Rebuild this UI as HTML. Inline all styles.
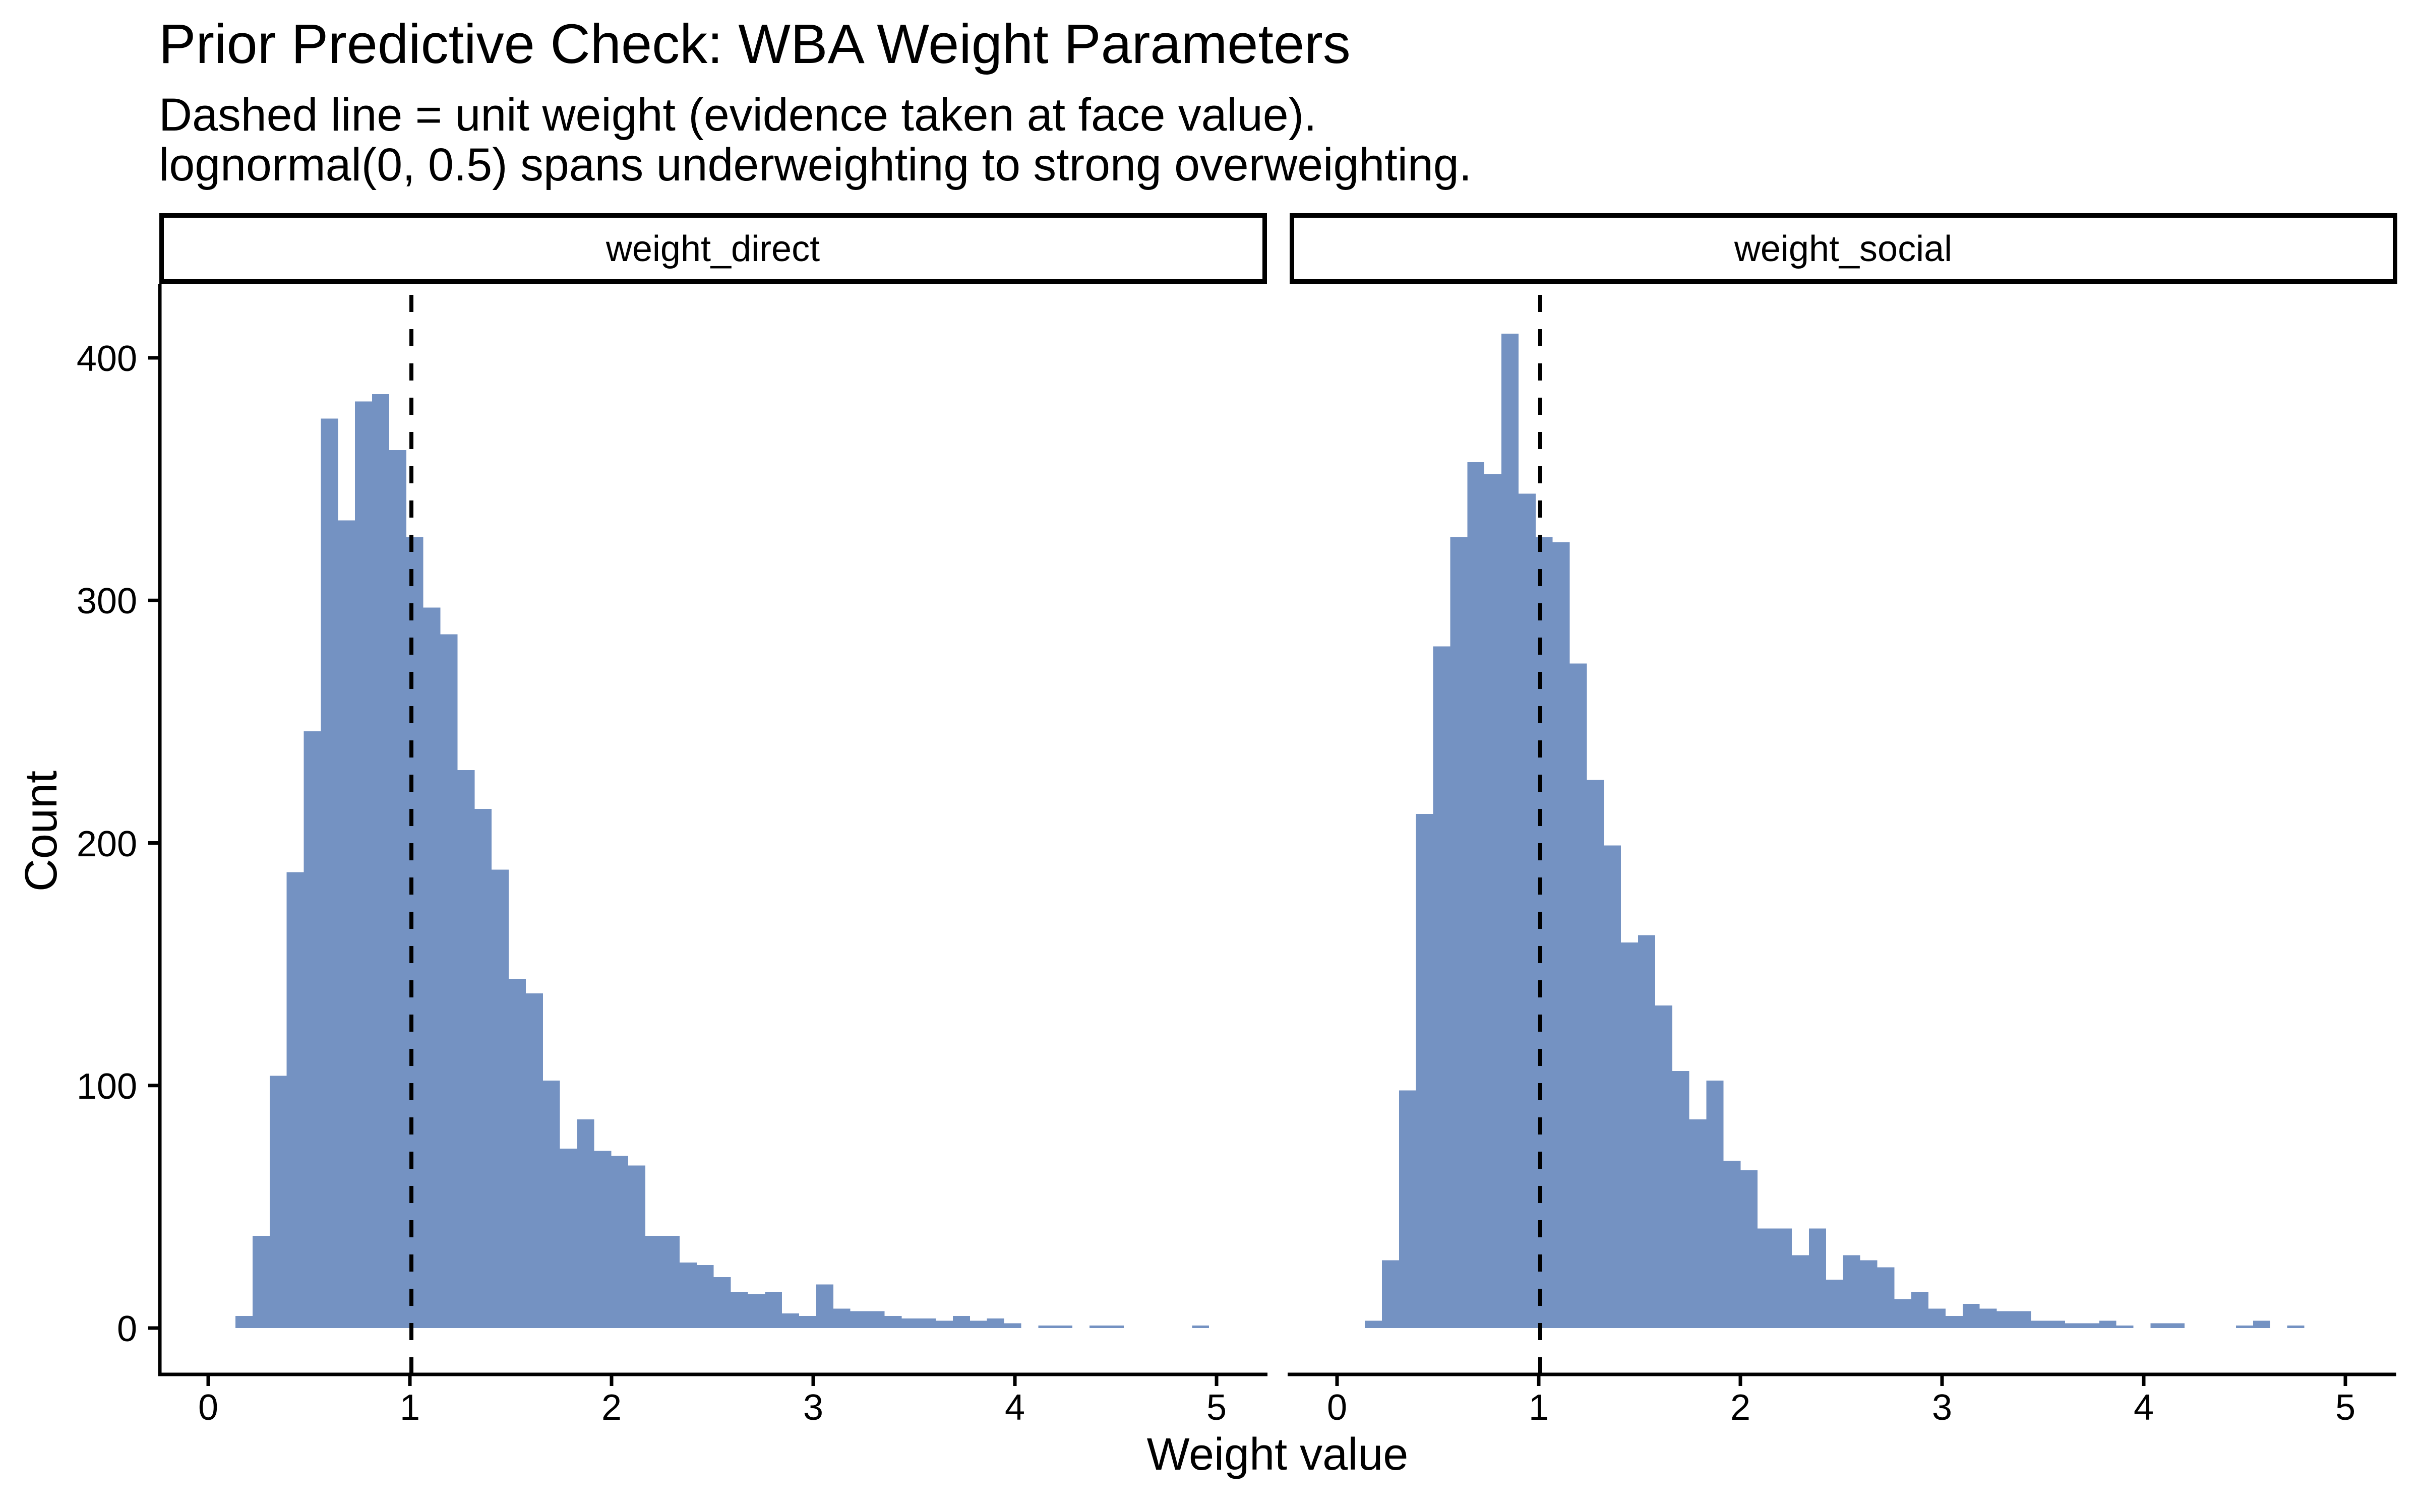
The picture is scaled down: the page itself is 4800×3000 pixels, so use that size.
<!DOCTYPE html>
<html><head><meta charset="utf-8"><style>html,body{margin:0;padding:0;background:#fff}svg{display:block}</style></head>
<body>
<svg width="4800" height="3000" viewBox="0 0 4800 3000" xmlns="http://www.w3.org/2000/svg" font-family="Liberation Sans, Arial, sans-serif">
<rect width="4800" height="3000" fill="#fff"/>
<text x="315" y="125" font-size="110" fill="#000">Prior Predictive Check: WBA Weight Parameters</text>
<text x="315" y="259" font-size="91.5" fill="#000">Dashed line = unit weight (evidence taken at face value).</text>
<text x="315" y="358" font-size="91.5" fill="#000">lognormal(0, 0.5) spans underweighting to strong overweighting.</text>

<!-- strips -->
<rect x="320.5" y="427.5" width="2188" height="131" fill="#fff" stroke="#000" stroke-width="9"/>
<rect x="2562.5" y="427.5" width="2188" height="131" fill="#fff" stroke="#000" stroke-width="9"/>
<text x="1414" y="518" font-size="72" text-anchor="middle">weight_direct</text>
<text x="3656" y="518" font-size="72" text-anchor="middle">weight_social</text>

<!-- panel 1 bars -->
<g fill="#7492c2" shape-rendering="crispEdges" transform="translate(467,2635) scale(33.88,-4.8125)">
<rect x="0" y="0" width="1" height="5"/><rect x="1" y="0" width="1" height="38"/><rect x="2" y="0" width="1" height="104"/><rect x="3" y="0" width="1" height="188"/><rect x="4" y="0" width="1" height="246"/><rect x="5" y="0" width="1" height="375"/><rect x="6" y="0" width="1" height="333"/><rect x="7" y="0" width="1" height="382"/><rect x="8" y="0" width="1" height="385"/><rect x="9" y="0" width="1" height="362"/><rect x="10" y="0" width="1" height="326"/><rect x="11" y="0" width="1" height="297"/><rect x="12" y="0" width="1" height="286"/><rect x="13" y="0" width="1" height="230"/><rect x="14" y="0" width="1" height="214"/><rect x="15" y="0" width="1" height="189"/><rect x="16" y="0" width="1" height="144"/><rect x="17" y="0" width="1" height="138"/><rect x="18" y="0" width="1" height="102"/><rect x="19" y="0" width="1" height="74"/><rect x="20" y="0" width="1" height="86"/><rect x="21" y="0" width="1" height="73"/><rect x="22" y="0" width="1" height="71"/><rect x="23" y="0" width="1" height="67"/><rect x="24" y="0" width="1" height="38"/><rect x="25" y="0" width="1" height="38"/><rect x="26" y="0" width="1" height="27"/><rect x="27" y="0" width="1" height="26"/><rect x="28" y="0" width="1" height="21"/><rect x="29" y="0" width="1" height="15"/><rect x="30" y="0" width="1" height="14"/><rect x="31" y="0" width="1" height="15"/><rect x="32" y="0" width="1" height="6"/><rect x="33" y="0" width="1" height="5"/><rect x="34" y="0" width="1" height="18"/><rect x="35" y="0" width="1" height="8"/><rect x="36" y="0" width="1" height="7"/><rect x="37" y="0" width="1" height="7"/><rect x="38" y="0" width="1" height="5"/><rect x="39" y="0" width="1" height="4"/><rect x="40" y="0" width="1" height="4"/><rect x="41" y="0" width="1" height="3"/><rect x="42" y="0" width="1" height="5"/><rect x="43" y="0" width="1" height="3"/><rect x="44" y="0" width="1" height="4"/><rect x="45" y="0" width="1" height="2"/><rect x="47" y="0" width="1" height="1"/><rect x="48" y="0" width="1" height="1"/><rect x="50" y="0" width="1" height="1"/><rect x="51" y="0" width="1" height="1"/><rect x="56" y="0" width="1" height="1"/>
</g>
<!-- panel 2 bars -->
<g fill="#7492c2" shape-rendering="crispEdges" transform="translate(2707,2635) scale(33.88,-4.8125)">
<rect x="0" y="0" width="1" height="3"/><rect x="1" y="0" width="1" height="28"/><rect x="2" y="0" width="1" height="98"/><rect x="3" y="0" width="1" height="212"/><rect x="4" y="0" width="1" height="281"/><rect x="5" y="0" width="1" height="326"/><rect x="6" y="0" width="1" height="357"/><rect x="7" y="0" width="1" height="352"/><rect x="8" y="0" width="1" height="410"/><rect x="9" y="0" width="1" height="344"/><rect x="10" y="0" width="1" height="326"/><rect x="11" y="0" width="1" height="324"/><rect x="12" y="0" width="1" height="274"/><rect x="13" y="0" width="1" height="226"/><rect x="14" y="0" width="1" height="199"/><rect x="15" y="0" width="1" height="159"/><rect x="16" y="0" width="1" height="162"/><rect x="17" y="0" width="1" height="133"/><rect x="18" y="0" width="1" height="106"/><rect x="19" y="0" width="1" height="86"/><rect x="20" y="0" width="1" height="102"/><rect x="21" y="0" width="1" height="69"/><rect x="22" y="0" width="1" height="65"/><rect x="23" y="0" width="1" height="41"/><rect x="24" y="0" width="1" height="41"/><rect x="25" y="0" width="1" height="30"/><rect x="26" y="0" width="1" height="41"/><rect x="27" y="0" width="1" height="20"/><rect x="28" y="0" width="1" height="30"/><rect x="29" y="0" width="1" height="28"/><rect x="30" y="0" width="1" height="25"/><rect x="31" y="0" width="1" height="12"/><rect x="32" y="0" width="1" height="15"/><rect x="33" y="0" width="1" height="8"/><rect x="34" y="0" width="1" height="5"/><rect x="35" y="0" width="1" height="10"/><rect x="36" y="0" width="1" height="8"/><rect x="37" y="0" width="1" height="7"/><rect x="38" y="0" width="1" height="7"/><rect x="39" y="0" width="1" height="3"/><rect x="40" y="0" width="1" height="3"/><rect x="41" y="0" width="1" height="2"/><rect x="42" y="0" width="1" height="2"/><rect x="43" y="0" width="1" height="3"/><rect x="44" y="0" width="1" height="1"/><rect x="46" y="0" width="1" height="2"/><rect x="47" y="0" width="1" height="2"/><rect x="51" y="0" width="1" height="1"/><rect x="52" y="0" width="1" height="3"/><rect x="54" y="0" width="1" height="1"/>
</g>

<!-- dashed lines -->
<line x1="816" y1="2727" x2="816" y2="567" stroke="#000" stroke-width="8" stroke-dasharray="34 34"/>
<line x1="3055" y1="2727" x2="3055" y2="567" stroke="#000" stroke-width="8" stroke-dasharray="34 34"/>

<!-- axes -->
<g stroke="#000" stroke-width="7">
<line x1="317" y1="563" x2="317" y2="2730"/>
<line x1="314" y1="2727" x2="2514" y2="2727"/>
<line x1="2554" y1="2727" x2="4753" y2="2727"/>
<line x1="294" y1="2635" x2="317" y2="2635"/>
<line x1="294" y1="2153.75" x2="317" y2="2153.75"/>
<line x1="294" y1="1672.5" x2="317" y2="1672.5"/>
<line x1="294" y1="1191.25" x2="317" y2="1191.25"/>
<line x1="294" y1="710" x2="317" y2="710"/>
<line x1="413" y1="2727" x2="413" y2="2750"/><line x1="813" y1="2727" x2="813" y2="2750"/><line x1="1213" y1="2727" x2="1213" y2="2750"/><line x1="1613" y1="2727" x2="1613" y2="2750"/><line x1="2013" y1="2727" x2="2013" y2="2750"/><line x1="2413" y1="2727" x2="2413" y2="2750"/>
<line x1="2652" y1="2727" x2="2652" y2="2750"/><line x1="3052" y1="2727" x2="3052" y2="2750"/><line x1="3452" y1="2727" x2="3452" y2="2750"/><line x1="3852" y1="2727" x2="3852" y2="2750"/><line x1="4252" y1="2727" x2="4252" y2="2750"/><line x1="4652" y1="2727" x2="4652" y2="2750"/>
</g>

<g font-size="72" fill="#000" text-anchor="end">
<text x="272" y="2661">0</text>
<text x="272" y="2180">100</text>
<text x="272" y="1699">200</text>
<text x="272" y="1217">300</text>
<text x="272" y="736">400</text>
</g>
<g font-size="72" fill="#000" text-anchor="middle">
<text x="413" y="2817">0</text><text x="813" y="2817">1</text><text x="1213" y="2817">2</text><text x="1613" y="2817">3</text><text x="2013" y="2817">4</text><text x="2413" y="2817">5</text>
<text x="2652" y="2817">0</text><text x="3052" y="2817">1</text><text x="3452" y="2817">2</text><text x="3852" y="2817">3</text><text x="4252" y="2817">4</text><text x="4652" y="2817">5</text>
</g>
<text x="2534" y="2916" font-size="90" text-anchor="middle">Weight value</text>
<text transform="translate(112,1649) rotate(-90)" font-size="90" text-anchor="middle">Count</text>
</svg>
</body></html>
